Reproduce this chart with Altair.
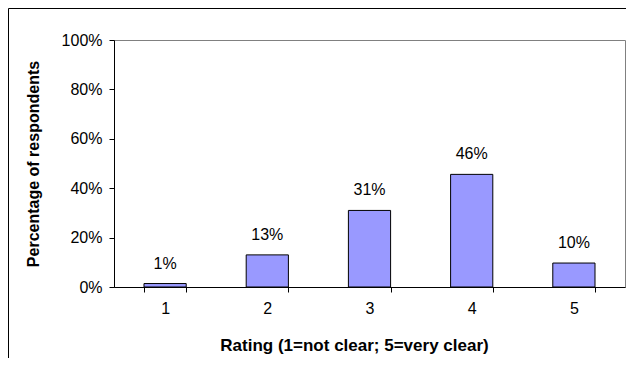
import altair as alt
import pandas as pd

ratings = ["1", "2", "3", "4", "5"]
shares = [0.014, 0.13, 0.31, 0.456, 0.097]
y_ticks = [0, 0.2, 0.4, 0.6, 0.8, 1.0]

df = pd.DataFrame({"rating": ratings, "share": shares})

W, H = 511, 247
FONT = "Liberation Sans"

x_enc = alt.X(
    "rating:N",
    sort=ratings,
    title="Rating (1=not clear; 5=very clear)",
    scale=alt.Scale(paddingInner=0.587, paddingOuter=0.2935),
    axis=alt.Axis(
        labelAngle=0, tickBand="extent", tickSize=5, tickColor="black",
        domainColor="black", labelColor="black", labelFont=FONT, labelFontSize=16,
        labelPadding=8, titleFont=FONT, titleFontSize=17, titleFontWeight="bold",
        titleColor="black", titleX=240, titleY=58, titleBaseline="middle",
    ),
)
y_enc = alt.Y(
    "share:Q",
    title="Percentage of respondents",
    scale=alt.Scale(domain=[0, 1], nice=False),
    axis=alt.Axis(
        values=y_ticks, format=".0%", grid=False, tickSize=5, tickColor="black",
        domainColor="black", labelColor="black", labelFont=FONT, labelFontSize=16,
        labelPadding=7, titleFont=FONT, titleFontSize=16, titleFontWeight="bold",
        titleColor="black", titleX=-81, titleY=H / 2, titleBaseline="middle",
        titleAngle=270,
    ),
)

bars = alt.Chart(df).mark_bar(color="#9999FF", stroke="black", strokeWidth=1).encode(
    x=x_enc, y=y_enc
)
labels = alt.Chart(df).mark_text(
    font=FONT, fontSize=16, color="black", baseline="alphabetic", dy=-15
).encode(x=alt.X("rating:N", sort=ratings), y="share:Q", text=alt.Text("share:Q", format=".0%"))

frame_df = pd.DataFrame({"k": [0]})
frame_top = alt.Chart(frame_df).mark_rule(color="black", strokeWidth=1).encode(
    x=alt.value(-105.5), x2=alt.value(W + 1), y=alt.value(-31.5)
)
frame_left = alt.Chart(frame_df).mark_rule(color="black", strokeWidth=1).encode(
    x=alt.value(-105.5), y=alt.value(-31.5), y2=alt.value(H + 71)
)

chart = (
    alt.layer(bars, labels, frame_top, frame_left)
    .properties(
        width=W, height=H,
        autosize=alt.AutoSizeParams(type="none"),
        padding={"left": 106, "top": 32, "right": 1, "bottom": 71},
        background="white",
    )
    .configure_view(stroke="#808080", strokeWidth=1)
)

chart.save("out.html", embed_options={"renderer": "svg", "actions": False})
